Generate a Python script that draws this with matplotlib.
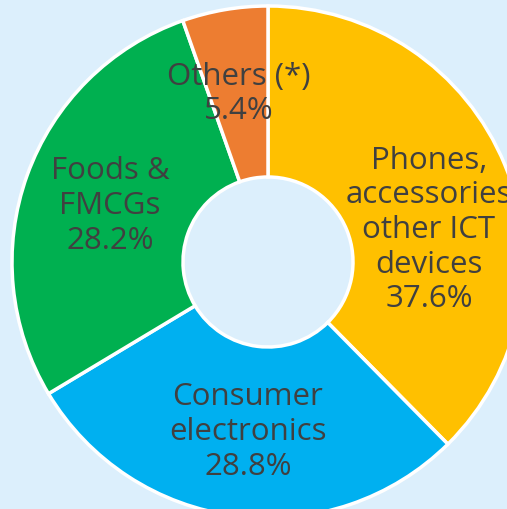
import matplotlib
matplotlib.use("Agg")
from matplotlib import pyplot as plt

# share of sales by category, clockwise from 12 o'clock
categories = ["Phones,\naccessories\nother ICT\ndevices", "Consumer\nelectronics",
              "Foods &\nFMCGs", "Others (*)"]
shares = [37.6, 28.8, 28.2, 5.4]
colors = ["#FFC000", "#00B0F0", "#00B050", "#ED7D31"]

bg = "#DCEFFC"
W, H = 507, 509

fig = plt.figure(figsize=(W / 100, H / 100), dpi=100, facecolor=bg)
ax = fig.add_axes([0, 0, 1, 1])
ax.set_facecolor(bg)

cx, cy = 268, H - 262
r_out, r_in = 256, 85

ax.pie(shares, colors=colors, startangle=90, counterclock=False,
       center=(cx, cy), radius=r_out, frame=True,
       wedgeprops=dict(width=r_out - r_in, edgecolor="white", linewidth=2.5))
ax.set_xlim(0, W)
ax.set_ylim(0, H)
ax.set_aspect("equal")
ax.axis("off")

# label anchors (pixel coords from top-left)
label_pos = [(429, 230), (248, 432), (110, 206), (239, 94)]
for name, val, (x, y) in zip(categories, shares, label_pos):
    ax.text(x, H - y, f"{name}\n{val:.1f}%", ha="center", va="center",
            fontsize=22.5, color="#404040", family="Open Sans",
            linespacing=1.2)

fig.savefig("out.png", dpi=100, facecolor=bg)
